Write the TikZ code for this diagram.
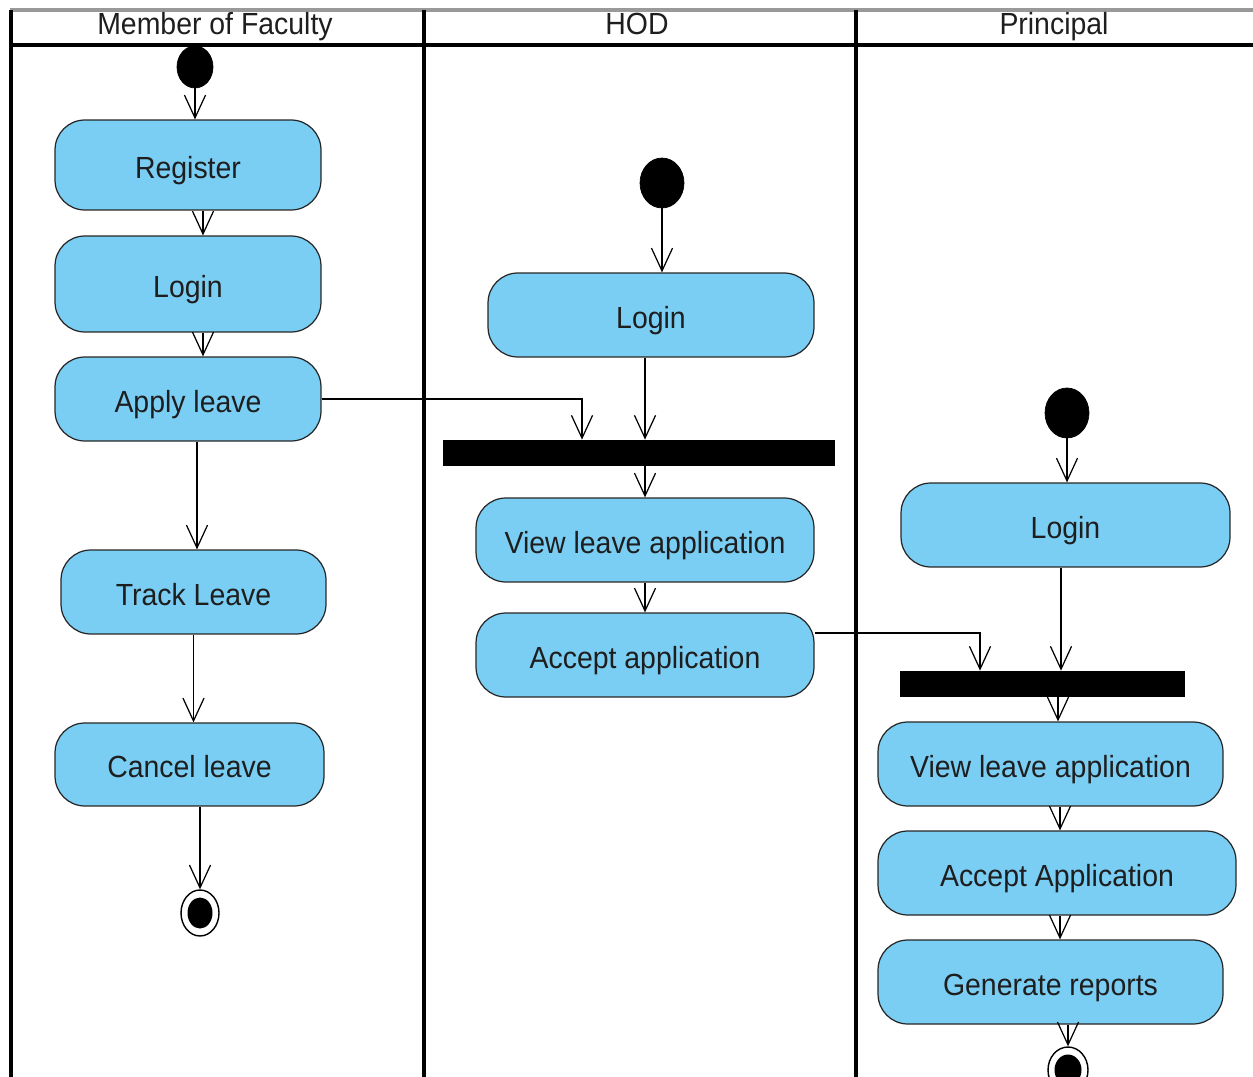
\documentclass[tikz,border=0pt]{standalone}
\usepackage{fontspec}
\setmainfont{Liberation Sans}[FakeStretch=0.93]
\usetikzlibrary{arrows.meta, shapes.geometric}

\definecolor{actblue}{RGB}{122,206,244}
\definecolor{txtgray}{RGB}{30,30,30}

\tikzset{
    act/.style={draw=black!85, fill=actblue, rounded corners=17pt, line width=0.7pt,
        minimum height=1.68cm, text=txtgray, font=\fontsize{17.4}{20}\selectfont, inner sep=0pt,
        text height=15pt, text depth=0pt},
    startnode/.style={ellipse, fill=black, draw=black, inner sep=0pt},
    endout/.style={ellipse, draw=black, fill=white, line width=0.8pt, minimum width=0.76cm, minimum height=0.92cm, inner sep=0pt},
    endin/.style={ellipse, fill=black, minimum width=0.5cm, minimum height=0.62cm, inner sep=0pt},
    syncbar/.style={rectangle, fill=black, minimum height=0.52cm, inner sep=0pt},
    flow/.style={line width=0.7pt, -{Straight Barb[length=13pt,width=12pt,line width=0.7pt]}},
    lane/.style={line width=2.2pt},
    head/.style={text=txtgray, font=\fontsize{17.4}{20}\selectfont, text height=12.5pt, text depth=3.6pt}
}

\begin{document}
\begin{tikzpicture}[x=0.02cm, y=-0.02cm]
    \useasboundingbox (0,0) rectangle (1253,1077);

    % swimlanes
    \draw[line width=2pt, black!40] (10,10) -- (1253,10);
    \draw[lane] (10,45) -- (1253,45);
    \draw[lane] (11,10) -- (11,1077);
    \draw[lane] (424,10) -- (424,1077);
    \draw[lane] (856,10) -- (856,1077);
    \node[head] (hfac) at (215,27) {Member of Faculty};
    \node[head] (hhod) at (637,27) {HOD};
    \node[head] (hpri) at (1054,27) {Principal};

    % Member of Faculty
    \node[startnode, minimum width=0.72cm, minimum height=0.84cm] (fstart) at (195,67) {};
    \node[act, minimum width=5.32cm, minimum height=1.8cm] (freg) at (188,165) {Register};
    \node[act, minimum width=5.32cm, minimum height=1.92cm] (flogin) at (188,284) {Login};
    \node[act, minimum width=5.32cm] (fapply) at (188,399) {Apply leave};
    \node[act, minimum width=5.3cm] (ftrack) at (193.5,592) {Track Leave};
    \node[act, minimum width=5.38cm, minimum height=1.66cm] (fcancel) at (189.5,764.5) {Cancel leave};
    \node[endout] (fend) at (200,913) {};
    \node[endin] at (fend) {};

    \draw[flow] (fstart.south) -- (fstart.south |- freg.north);
    \draw[flow] ([xshift=0.3cm]freg.south) -- ([xshift=0.3cm]freg.south |- flogin.north);
    \draw[flow] ([xshift=0.3cm]flogin.south) -- ([xshift=0.3cm]flogin.south |- fapply.north);
    \draw[flow] ([xshift=0.18cm]fapply.south) -- ([xshift=0.18cm]fapply.south |- ftrack.north);
    \draw[flow] (ftrack.south) -- (ftrack.south |- fcancel.north);
    \draw[flow] (fend.north |- fcancel.south) -- (fend.north);

    % HOD
    \node[startnode, minimum width=0.88cm, minimum height=1cm] (hstart) at (662,183) {};
    \node[act, minimum width=6.52cm] (hlogin) at (651,315) {Login};
    \node[syncbar, minimum width=7.84cm] (hbar) at (639,453) {};
    \node[act, minimum width=6.76cm] (hview) at (645,540) {View leave application};
    \node[act, minimum width=6.76cm] (haccept) at (645,655) {Accept application};

    \draw[flow] (hstart.south) -- (hstart.south |- hlogin.north);
    \draw[flow] ([xshift=-0.12cm]hlogin.south) -- ([xshift=-0.12cm]hlogin.south |- hbar.north);
    \draw[flow] (fapply.east) -| ([xshift=-1.14cm]hbar.north);
    \draw[flow] (hview.north |- hbar.south) -- (hview.north);
    \draw[flow] (hview.south) -- (hview.south |- haccept.north);

    % Principal
    \node[startnode, minimum width=0.88cm, minimum height=1cm] (pstart) at (1067,413) {};
    \node[act, minimum width=6.58cm] (plogin) at (1065.5,525) {Login};
    \node[syncbar, minimum width=5.7cm] (pbar) at (1042.5,684) {};
    \node[act, minimum width=6.9cm] (pview) at (1050.5,764) {View leave application};
    \node[act, minimum width=7.16cm] (paccept) at (1057,873) {Accept Application};
    \node[act, minimum width=6.9cm] (preport) at (1050.5,982) {Generate reports};
    \node[endout, minimum width=0.8cm] (pend) at (1068,1070) {};
    \node[endin, minimum width=0.54cm] at (pend) {};

    \draw[flow] (pstart.south) -- (pstart.south |- plogin.north);
    \draw[flow] ([xshift=-0.09cm]plogin.south) -- ([xshift=-0.09cm]plogin.south |- pbar.north);
    \draw[flow] ([yshift=0.44cm]haccept.east) -| ([xshift=-1.25cm]pbar.north);
    \draw[flow] ([xshift=0.15cm]pview.north |- pbar.south) -- ([xshift=0.15cm]pview.north);
    \draw[flow] ([xshift=0.19cm]pview.south) -- ([xshift=0.19cm]pview.south |- paccept.north);
    \draw[flow] ([xshift=0.06cm]paccept.south) -- ([xshift=0.06cm]paccept.south |- preport.north);
    \draw[flow] (pend.north |- preport.south) -- (pend.north);
\end{tikzpicture}
\end{document}
